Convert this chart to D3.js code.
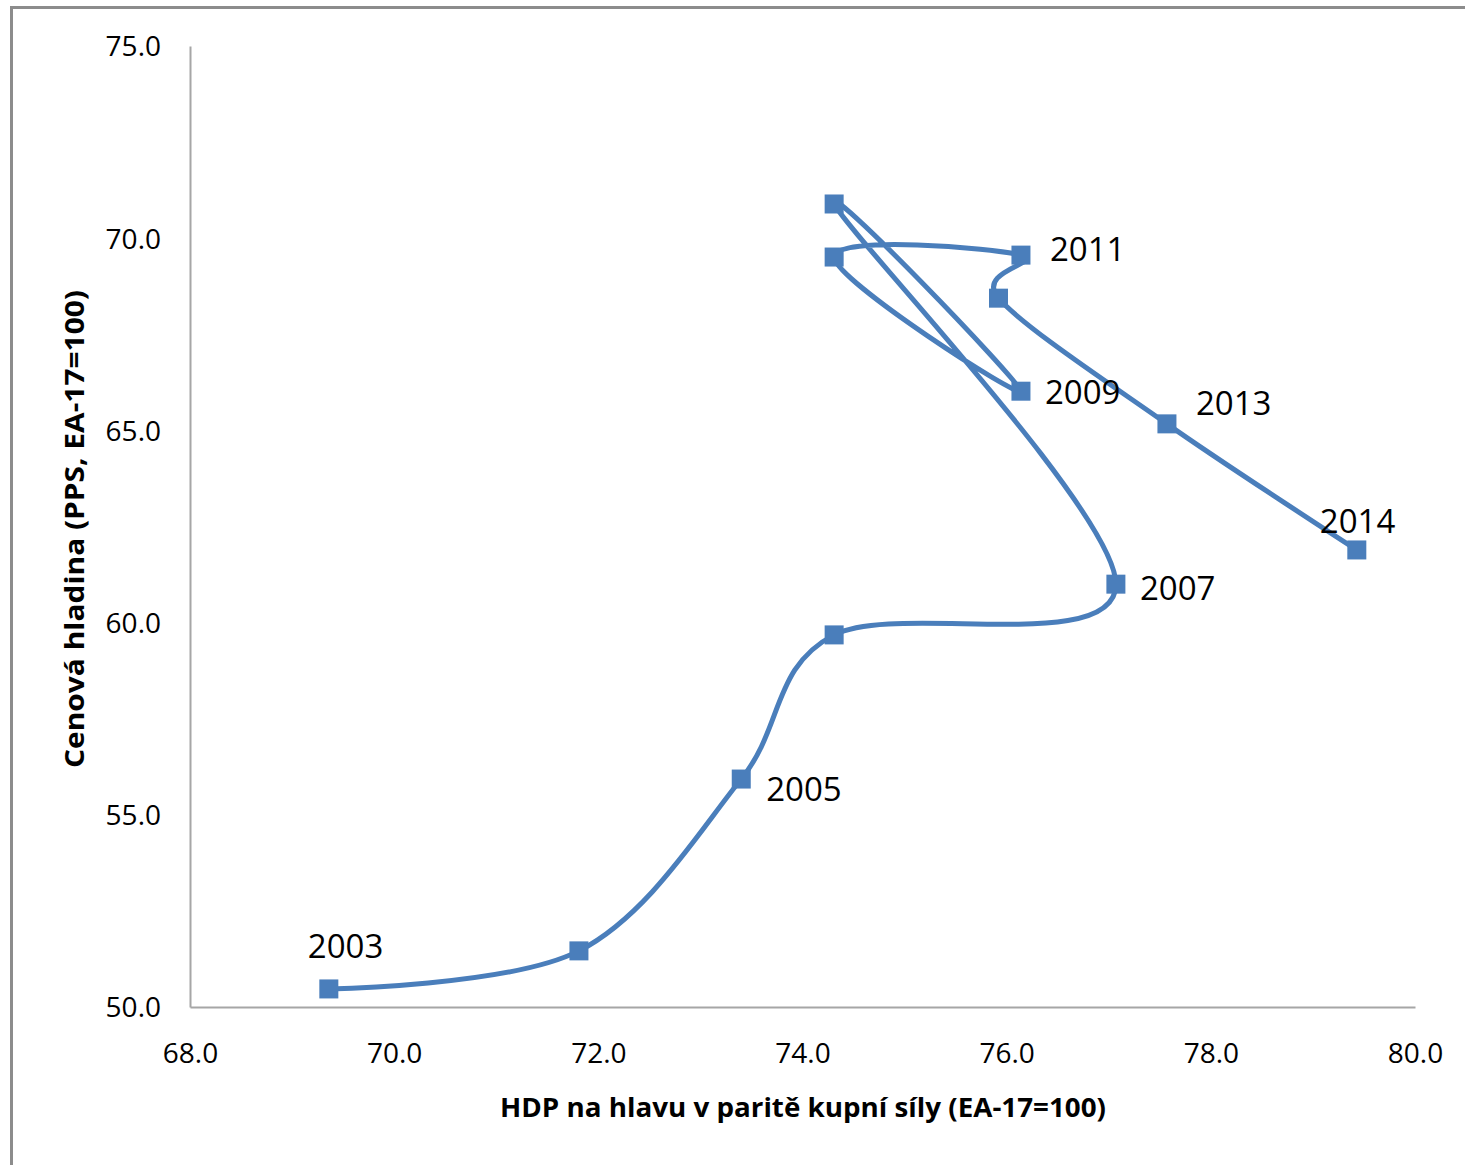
<!DOCTYPE html>
<html>
<head>
<meta charset="utf-8">
<script src="https://cdn.jsdelivr.net/npm/d3@7"></script>
<style>
  html, body { margin: 0; padding: 0; background: #fff; }
  svg { display: block; }
  text { font-family: "Open Sans", "Liberation Sans", sans-serif; fill: #000; }
</style>
</head>
<body>
<svg id="chart" width="1465" height="1165"></svg>
<script>
// Yearly path: GDP per capita in PPS (x) vs. price level (y), EA-17 = 100
const years = [2003, 2004, 2005, 2006, 2007, 2008, 2009, 2010, 2011, 2012, 2013, 2014];
const gdpPPS = [69.36, 71.81, 73.40, 74.31, 77.07, 74.31, 76.14, 74.31, 76.14, 75.92, 77.57, 79.43];
const priceLevel = [50.47, 51.46, 55.93, 59.68, 61.00, 70.89, 66.02, 69.51, 69.56, 68.44, 65.17, 61.89];
const labelledYears = [2003, 2005, 2007, 2009, 2011, 2013, 2014];

const xTicks = [68, 70, 72, 74, 76, 78, 80];
const yTicks = [50, 55, 60, 65, 70, 75];
const xTitle = "HDP na hlavu v paritě kupní síly (EA-17=100)";
const yTitle = "Cenová hladina (PPS, EA-17=100)";

// label placement relative to its marker (pixels): [dx to left edge, dy to text middle]
const labelOffset = {
  2003: [-21, -43], 2005: [25, 10], 2007: [24, 4], 2009: [24, 1],
  2011: [29, -6], 2013: [29, -21], 2014: [-37, -29]
};

const blue = "#4a7ebb";
const svg = d3.select("#chart");

// outer frame (only top and left edges fall inside the view)
svg.append("rect")
  .attr("x", 11.5).attr("y", 7.5)
  .attr("width", 1500).attr("height", 1200)
  .attr("fill", "none").attr("stroke", "#8c8c8c").attr("stroke-width", 3);

const x = d3.scaleLinear().domain([68, 80]).range([190, 1415]);
const y = d3.scaleLinear().domain([50, 75]).range([1007, 46]);

// axes without tick marks
const xAxis = svg.append("g").attr("transform", `translate(0,${y(50)})`)
  .call(d3.axisBottom(x).tickValues(xTicks).tickFormat(d3.format(".1f")).tickSize(0).tickPadding(36));
const yAxis = svg.append("g").attr("transform", `translate(${x(68)},0)`)
  .call(d3.axisLeft(y).tickValues(yTicks).tickFormat(d3.format(".1f")).tickSize(0).tickPadding(29));
[xAxis, yAxis].forEach(g => {
  g.attr("font-size", 28);
  g.select(".domain").attr("stroke", "#a6a6a6").attr("stroke-width", 2);
  g.selectAll("text").attr("fill", "#222")
    .attr("font-family", "'Open Sans', sans-serif");
});
yAxis.selectAll("text").attr("dy", "0.35em");

// axis titles
svg.append("text")
  .attr("x", 803).attr("y", 1117)
  .attr("text-anchor", "middle")
  .attr("font-size", 27).attr("font-weight", 700)
  .attr("textLength", 606).attr("lengthAdjust", "spacingAndGlyphs")
  .text(xTitle);
svg.append("text")
  .attr("transform", "translate(84,529) rotate(-90)")
  .attr("text-anchor", "middle")
  .attr("font-size", 27).attr("font-weight", 700)
  .attr("textLength", 478).attr("lengthAdjust", "spacingAndGlyphs")
  .text(yTitle);

const pts = years.map((yr, i) => ({ year: yr, gx: gdpPPS[i], py: priceLevel[i] }));

// smoothed connecting line
const line = d3.line()
  .x(d => x(d.gx)).y(d => y(d.py))
  .curve(d3.curveCardinal.tension(0));
svg.append("path")
  .datum(pts)
  .attr("d", line)
  .attr("fill", "none")
  .attr("stroke", blue)
  .attr("stroke-width", 5)
  .attr("stroke-linejoin", "round");

// square markers
const m = 19;
svg.append("g").selectAll("rect")
  .data(pts).join("rect")
  .attr("x", d => x(d.gx) - m / 2)
  .attr("y", d => y(d.py) - m / 2)
  .attr("width", m).attr("height", m)
  .attr("fill", blue);

// year labels
svg.append("g").selectAll("text")
  .data(pts.filter(d => labelledYears.includes(d.year))).join("text")
  .attr("font-size", 33)
  .attr("x", d => x(d.gx) + labelOffset[d.year][0])
  .attr("y", d => y(d.py) + labelOffset[d.year][1])
  .attr("dy", "0.36em")
  .text(d => d.year);
</script>
</body>
</html>
